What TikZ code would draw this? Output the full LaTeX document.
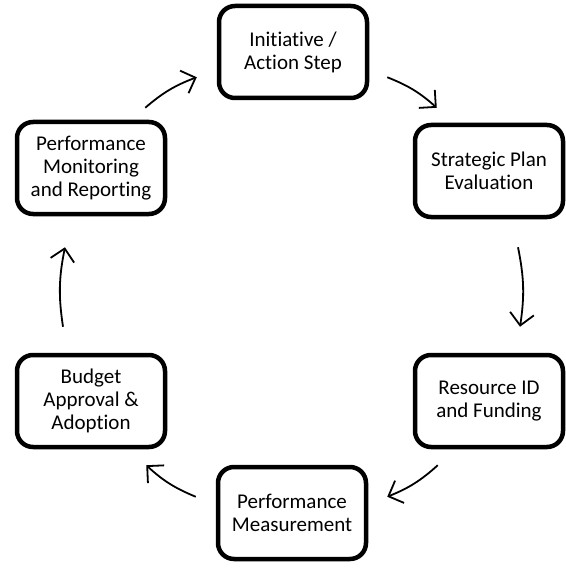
\documentclass[tikz,border=0pt]{standalone}
\usepackage{fontspec}
\setmainfont{Carlito}[Ligatures=NoCommon]
\usetikzlibrary{arrows.meta}

\begin{document}
\begin{tikzpicture}[x=1pt,y=-1pt]

%
% Styles
%
\tikzstyle{stepbox} = [rectangle,rounded corners=16pt,draw=black,line width=4.5pt,
  minimum width=148pt,minimum height=92pt,align=center,
  font=\fontsize{21}{23}\selectfont]
\tikzstyle{flow} = [line width=1.8pt,-{Straight Barb[length=12pt,width=24pt]},bend left=10]

\useasboundingbox (0,0) rectangle (565,569);

\node[stepbox] (init)     at (293, 52) {Initiative /\\Action Step};
\node[stepbox] (strat)    at (489,171) {Strategic Plan\\Evaluation};
\node[stepbox] (resource) at (489,401) {Resource ID\\and Funding};
\node[stepbox] (measure)  at (292,513) {Performance\\Measurement};
\node[stepbox] (budget)   at ( 91,401) {Budget\\Approval \&\\Adoption};
\node[stepbox] (perfmon)  at ( 91,168) {Performance\\Monitoring\\and Reporting};

\draw[flow] ([shift={(-22,-12)}]perfmon.north east) to ([shift={(-20,-23)}]init.south west);
\draw[flow] ([shift={(18,-23)}]init.south east)     to ([shift={(24,-15)}]strat.north west);
\draw[flow] ([shift={(29,28)}]strat.south)           to ([shift={(31,-26)}]resource.north);
\draw[flow] ([shift={(25,16)}]resource.south west)   to ([shift={(19,32)}]measure.north east);
\draw[flow] ([shift={(-20,32)}]measure.north west)   to ([shift={(-21,16)}]budget.south east);
\draw[flow] ([shift={(-28,-26)}]budget.north)        to ([shift={(-26,31)}]perfmon.south);

\end{tikzpicture}
\end{document}
